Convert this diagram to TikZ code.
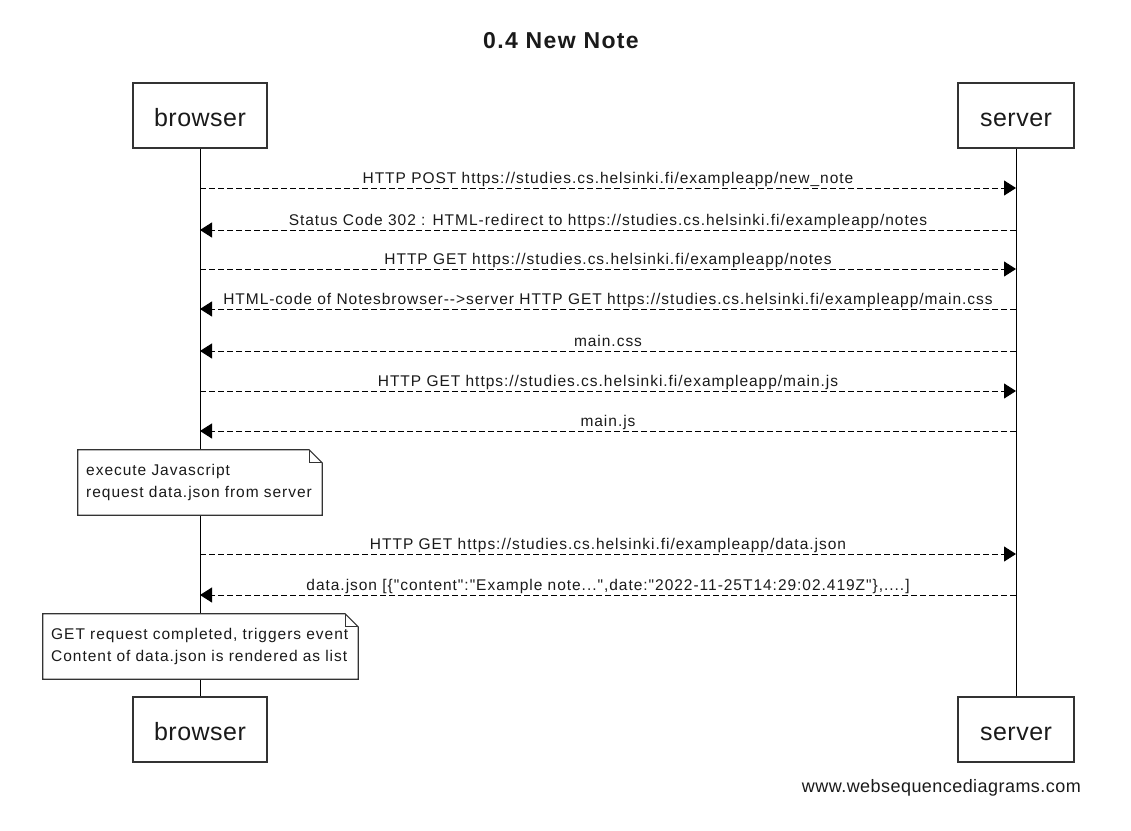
\documentclass[tikz,border=0pt]{standalone}
\usepackage{fontspec}
\setmainfont{Liberation Sans}
\newfontfamily\lblfont[LetterSpace=6.3]{Liberation Sans}
\newfontfamily\actorfont[LetterSpace=2]{Liberation Sans}
\newfontfamily\ttlfont[LetterSpace=6]{Liberation Sans}
\newfontfamily\footfont[LetterSpace=2.5]{Liberation Sans}
\usetikzlibrary{arrows.meta}
\definecolor{ink}{HTML}{1A1A1A}
\definecolor{edge}{HTML}{333333}
\begin{document}
\begin{tikzpicture}[x=1pt,y=-1pt,
  actor/.style={draw=edge, line width=1.2pt, fill=white, minimum height=65pt, inner sep=0pt,
    text height=21pt, text depth=0pt,
    font=\actorfont\fontsize{25}{30}\selectfont, text=ink},
  lifeline/.style={draw=black, line width=1pt},
  msg/.style={draw=black, line width=1pt, dash pattern=on 6pt off 3pt,
    -{Triangle[length=12pt,width=15pt]}},
  msglbl/.style={font=\lblfont\fontsize{15.5}{21.6}\selectfont, text=ink, anchor=base,
    inner sep=0pt, yshift=5pt},
  notebox/.style={fill=white, inner xsep=8.2pt, inner ysep=0pt, align=left, minimum height=65pt,
    font=\lblfont\fontsize{15.5}{21.6}\selectfont, text=ink},
  noteline/.style={draw=edge, line width=1.2pt, line join=miter},
  ttl/.style={font=\ttlfont\bfseries\fontsize{23}{27}\selectfont, text=ink, anchor=base, inner sep=0pt},
  foot/.style={font=\footfont\fontsize{18}{21}\selectfont, text=ink, anchor=base east, inner sep=0pt}
]
\useasboundingbox[fill=white] (0,0) rectangle (1131,830);

\node[ttl] (title) at (561,48.7) {0.4 New Note};

% participants
\node[actor, minimum width=134pt] (bt) at (200,115.5) {browser};
\node[actor, minimum width=116pt] (st) at (1016,115.5) {server};
\node[actor, minimum width=134pt] (bb) at (200,729.5) {browser};
\node[actor, minimum width=116pt] (sb) at (1016,729.5) {server};

% lifelines
\draw[lifeline] (bt.south) -- (bb.north);
\draw[lifeline] (st.south) -- (sb.north);

% message end points
\foreach \i/\yy in {1/188,2/230,3/269,4/309,5/351,6/391,7/431,8/554,9/595}{
  \coordinate (b\i) at (200,\yy);
  \coordinate (s\i) at (1016,\yy);
}

\draw[msg] (b1) -- node[msglbl, pos=0.5] (m1) {HTTP POST https://studies.cs.helsinki.fi/exampleapp/new\_note} (s1);
\draw[msg] (s2) -- node[msglbl, pos=0.5] (m2) {Status Code 302 : HTML-redirect to https://studies.cs.helsinki.fi/exampleapp/notes} (b2);
\draw[msg] (b3) -- node[msglbl, pos=0.5] (m3) {HTTP GET https://studies.cs.helsinki.fi/exampleapp/notes} (s3);
\draw[msg] (s4) -- node[msglbl, pos=0.5] (m4) {HTML-code of Notesbrowser-{}->server HTTP GET https://studies.cs.helsinki.fi/exampleapp/main.css} (b4);
\draw[msg] (s5) -- node[msglbl, pos=0.5] (m5) {main.css} (b5);
\draw[msg] (b6) -- node[msglbl, pos=0.5] (m6) {HTTP GET https://studies.cs.helsinki.fi/exampleapp/main.js} (s6);
\draw[msg] (s7) -- node[msglbl, pos=0.5] (m7) {main.js} (b7);
\draw[msg] (b8) -- node[msglbl, pos=0.5] (m8) {HTTP GET https://studies.cs.helsinki.fi/exampleapp/data.json} (s8);
\draw[msg] (s9) -- node[msglbl, pos=0.5] (m9) {data.json [\{"content":"Example note...",date:"2022-11-25T14:29:02.419Z"\},....]} (b9);

% notes
\node[notebox, text width=227.6pt] (n1) at (200,482.5) {execute Javascript\\request data.json from server};
\draw[noteline] (n1.south west) -- (n1.north west) -- ([xshift=-13pt]n1.north east)
  -- ([yshift=-13pt]n1.north east) -- (n1.south east) -- cycle;
\draw[noteline] ([xshift=-13pt]n1.north east) -- ([xshift=-13pt,yshift=-13pt]n1.north east) -- ([yshift=-13pt]n1.north east);

\node[notebox, text width=298.6pt] (n2) at (200.5,646.5) {GET request completed, triggers event\\Content of data.json is rendered as list};
\draw[noteline] (n2.south west) -- (n2.north west) -- ([xshift=-13pt]n2.north east)
  -- ([yshift=-13pt]n2.north east) -- (n2.south east) -- cycle;
\draw[noteline] ([xshift=-13pt]n2.north east) -- ([xshift=-13pt,yshift=-13pt]n2.north east) -- ([yshift=-13pt]n2.north east);

\node[foot] (footer) at (1081,792.7) {www.websequencediagrams.com};
\end{tikzpicture}
\end{document}
